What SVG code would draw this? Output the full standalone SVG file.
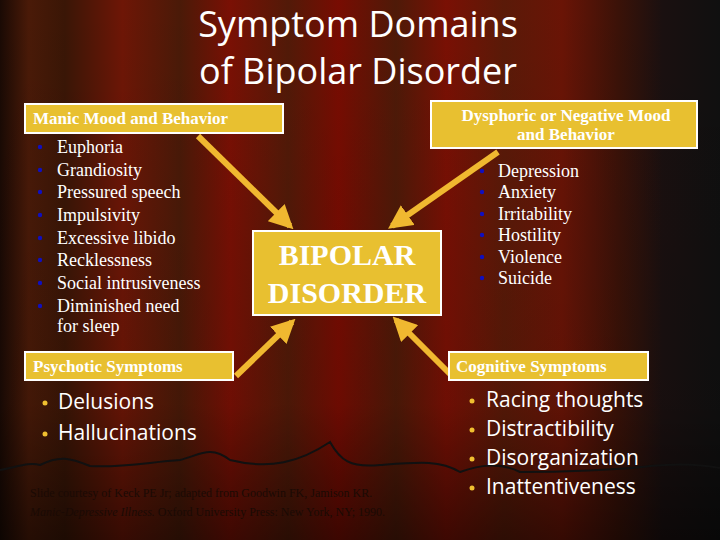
<svg xmlns="http://www.w3.org/2000/svg" width="720" height="540" viewBox="0 0 720 540">
<defs>
<linearGradient id="bg" x1="0" y1="0" x2="1" y2="0">
<stop offset="0" stop-color="#1a0a04"/>
<stop offset="0.04" stop-color="#4a1a08"/>
<stop offset="0.09" stop-color="#3a1606"/>
<stop offset="0.17" stop-color="#6e1606"/>
<stop offset="0.25" stop-color="#4a1a08"/>
<stop offset="0.32" stop-color="#7a1004"/>
<stop offset="0.4" stop-color="#521a08"/>
<stop offset="0.47" stop-color="#780c02"/>
<stop offset="0.55" stop-color="#4e1a08"/>
<stop offset="0.62" stop-color="#7a1004"/>
<stop offset="0.7" stop-color="#5a1a08"/>
<stop offset="0.78" stop-color="#6a1406"/>
<stop offset="0.86" stop-color="#3a1208"/>
<stop offset="0.92" stop-color="#1a1010"/>
<stop offset="1" stop-color="#101010"/>
</linearGradient>
<linearGradient id="shade" x1="0" y1="0" x2="0" y2="1">
<stop offset="0" stop-color="#000" stop-opacity="0"/>
<stop offset="0.75" stop-color="#000" stop-opacity="0.1"/>
<stop offset="1" stop-color="#000" stop-opacity="0.5"/>
</linearGradient>
<marker id="ah" viewBox="0 0 10 10" refX="8" refY="5" markerWidth="4" markerHeight="4" orient="auto">
<path d="M0,0 L10,5 L0,10 z" fill="#f0b830"/>
</marker>
<style>
.box{fill:#e8c030;stroke:#fff;stroke-width:2}
.hd{font-family:"Liberation Serif",serif;font-weight:bold;fill:#fff;font-size:17px}
.it{font-family:"Liberation Serif",serif;fill:#fff;font-size:18px}
.sa{font-family:"Open Sans","DejaVu Sans",sans-serif;fill:#fff;font-size:21px}
.bl{fill:#1010c0}
.by{fill:#f0c030}
.arr{stroke:#f0b830;stroke-width:6;fill:none;marker-end:url(#ah)}
</style>
</defs>
<rect width="720" height="540" fill="url(#bg)"/>
<rect width="720" height="540" fill="url(#shade)"/>
<path d="M0,470 C20,466 30,462 40,465 C60,455 70,458 90,466 C120,468 150,462 180,460 C200,455 210,445 230,460 C270,470 300,462 330,442 C340,460 350,468 380,465 C420,462 440,460 460,472 C480,465 500,462 520,472 C560,472 620,470 650,466 C690,462 710,466 720,468" fill="none" stroke="#111" stroke-width="2"/>
<text x="358" y="37" text-anchor="middle" font-family="Open Sans,DejaVu Sans,sans-serif" font-size="36" fill="#fff">Symptom Domains</text>
<text x="358" y="84" text-anchor="middle" font-family="Open Sans,DejaVu Sans,sans-serif" font-size="36" fill="#fff">of Bipolar Disorder</text>
<g id="connectors">
<line class="arr" x1="198" y1="136" x2="290" y2="226"/>
<line class="arr" x1="498" y1="152" x2="392" y2="226"/>
<line class="arr" x1="236" y1="376" x2="292" y2="322"/>
<line class="arr" x1="452" y1="376" x2="396" y2="320"/>
</g>
<g id="manic">
<rect class="box" x="25" y="104" width="258" height="29"/>
<text class="hd" x="33" y="124">Manic Mood and Behavior</text>
<g class="it">
<text x="57" y="153">Euphoria</text><text x="57" y="176">Grandiosity</text><text x="57" y="198">Pressured speech</text><text x="57" y="221">Impulsivity</text><text x="57" y="244">Excessive libido</text><text x="57" y="266">Recklessness</text><text x="57" y="289">Social intrusiveness</text><text x="57" y="312">Diminished need</text><text x="57" y="332">for sleep</text>
</g>
<g class="bl"><circle cx="40" cy="147" r="2.2"/><circle cx="40" cy="170" r="2.2"/><circle cx="40" cy="192" r="2.2"/><circle cx="40" cy="215" r="2.2"/><circle cx="40" cy="238" r="2.2"/><circle cx="40" cy="260" r="2.2"/><circle cx="40" cy="283" r="2.2"/><circle cx="40" cy="306" r="2.2"/></g>
</g>
<g id="dysphoric">
<rect class="box" x="431" y="101" width="266" height="47"/>
<text class="hd" x="566" y="121" text-anchor="middle">Dysphoric or Negative Mood</text>
<text class="hd" x="566" y="140" text-anchor="middle">and Behavior</text>
<g class="it"><text x="498" y="177">Depression</text><text x="498" y="198">Anxiety</text><text x="498" y="220">Irritability</text><text x="498" y="241">Hostility</text><text x="498" y="263">Violence</text><text x="498" y="284">Suicide</text></g>
<g class="bl"><circle cx="482" cy="171" r="2.2"/><circle cx="482" cy="192" r="2.2"/><circle cx="482" cy="214" r="2.2"/><circle cx="482" cy="235" r="2.2"/><circle cx="482" cy="257" r="2.2"/><circle cx="482" cy="278" r="2.2"/></g>
</g>
<g id="bipolar">
<rect class="box" x="253" y="231" width="188" height="84"/>
<text x="347" y="265" text-anchor="middle" font-family="Liberation Serif,serif" font-weight="bold" font-size="30" fill="#fff">BIPOLAR</text>
<text x="347" y="303" text-anchor="middle" font-family="Liberation Serif,serif" font-weight="bold" font-size="30" fill="#fff">DISORDER</text>
</g>
<g id="psychotic">
<rect class="box" x="25" y="352" width="208" height="28"/>
<text class="hd" x="33" y="372">Psychotic Symptoms</text>
<g class="sa"><text x="58" y="409">Delusions</text><text x="58" y="440">Hallucinations</text></g>
<g class="by"><circle cx="45" cy="403" r="2.5"/><circle cx="45" cy="434" r="2.5"/></g>
</g>
<g id="cognitive">
<rect class="box" x="449" y="352" width="199" height="28"/>
<text class="hd" x="456" y="372">Cognitive Symptoms</text>
<g class="sa"><text x="486" y="407">Racing thoughts</text><text x="486" y="436">Distractibility</text><text x="486" y="465">Disorganization</text><text x="486" y="494">Inattentiveness</text></g>
<g class="by"><circle cx="472" cy="401" r="2.5"/><circle cx="472" cy="430" r="2.5"/><circle cx="472" cy="459" r="2.5"/><circle cx="472" cy="488" r="2.5"/></g>
</g>
<text x="30" y="497" font-family="Liberation Serif,serif" font-size="12" fill="#1a0a04">Slide courtesy of Keck PE Jr; adapted from Goodwin FK, Jamison KR.</text>
<text x="30" y="516" font-family="Liberation Serif,serif" font-size="12" fill="#1a0a04"><tspan font-style="italic">Manic-Depressive Illness.</tspan> Oxford University Press: New York, NY; 1990.</text>
</svg>
